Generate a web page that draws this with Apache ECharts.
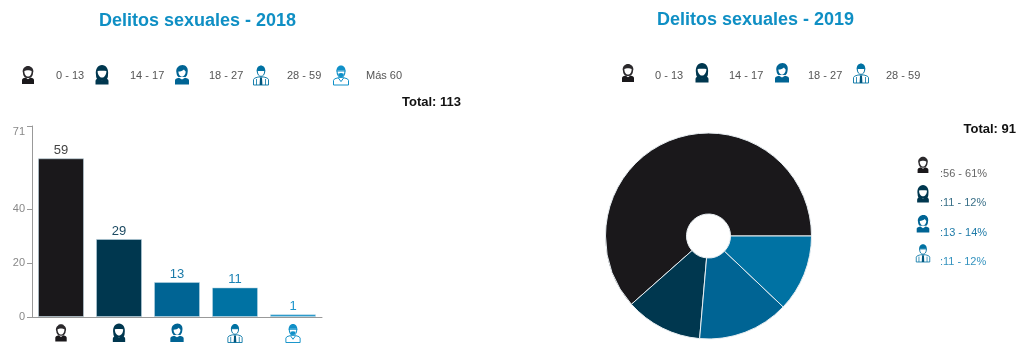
<!DOCTYPE html>
<html>
<head>
<meta charset="utf-8">
<style>html,body{margin:0;padding:0;background:#fff}#c{width:1019px;height:343px}</style>
<script src="https://cdn.jsdelivr.net/npm/echarts@6/dist/echarts.min.js"></script>
</head>
<body>
<div id="c"></div>
<script>
const ageGroups = ['0 - 13', '14 - 17', '18 - 27', '28 - 59', 'Más 60'];
const ageGroups2019 = ['0 - 13', '14 - 17', '18 - 27', '28 - 59'];
const values2018 = [59, 29, 13, 11, 1];
const values2019 = [56, 11, 13, 11];
const percents2019 = [61, 12, 14, 12];
const yTicks = [0, 20, 40, 71];
const total2018 = 113;
const total2019 = 91;
const colors = ['#1a181b', '#00374f', '#006494', '#0072a3', '#1090c8'];
const labelColors = ['#444444', '#1c4a62', '#1a7aa8', '#1a82b4', '#1a94cc'];
const sideLabelColors = ['#666666', '#3a7088', '#1f7ba8', '#3593bf'];

const FONT = '"Liberation Sans", Arial, sans-serif';

function icon(i, x, y, s) {
  const c = colors[i];
  const fill = (d, f) => ({ type: 'path', shape: { pathData: d }, style: { fill: f || c } });
  const line = (d, w) => ({ type: 'path', shape: { pathData: d }, style: { fill: '#fff', stroke: c, lineWidth: w || 0.9 } });
  let kids;
  if (i === 0) {
    kids = [
      fill('M-5 -2C-6 -4 -5 -7 -3 -8C-2 -9.5 2 -9.5 3 -8C5 -7 6 -4 5 -2C5 1 3 3 0 3C-3 3 -5 1 -5 -2Z', '#2b292c'),
      fill('M-3.6 -4C-2 -5 2 -5 3.6 -4C3.8 -0.8 2 1.6 0 1.6C-2 1.6 -3.8 -0.8 -3.6 -4Z', '#fff'),
      fill('M-6 9V5Q-6 3.2 -2.5 2.4L0 4.2L2.5 2.4Q6 3.2 6 5V9Z')
    ];
  } else if (i === 1) {
    kids = [
      fill('M-6 0C-7 -6 -4 -10 0 -10C4 -10 7 -6 6 0C6 3 5 4 4 5L-4 5C-5 4 -6 3 -6 0Z'),
      fill('M-4.4 -4C-2 -4.4 2 -4.4 4.4 -4C4.4 0 2.2 2.6 0 2.6C-2.2 2.6 -4.4 0 -4.4 -4Z', '#fff'),
      fill('M-6.5 9.5V6Q-6.5 4 -3 3L0 5.2L3 3Q6.5 4 6.5 6V9.5Z')
    ];
  } else if (i === 2) {
    kids = [
      fill('M-5.5 -2C-6.8 -7 -3 -10 0.5 -10C4 -10 6.8 -7 5.5 -2C5.4 0 4.5 1 3.6 2L-3.6 2C-4.5 1 -5.4 0 -5.5 -2Z'),
      fill('M-3.6 -3.4C-1.5 -3.6 1 -4.4 2 -5.6C2.6 -4.6 3.4 -4 3.7 -3.2C3.6 -0.4 1.8 1.8 0 1.8C-1.8 1.8 -3.6 -0.4 -3.6 -3.4Z', '#fff'),
      fill('M-7 9.5V5.4Q-7 3.6 -3 2.8L0 4.6L3 2.8Q7 3.6 7 5.4V9.5Z')
    ];
  } else if (i === 3) {
    kids = [
      line('M-7.5 10V4.6Q-7.5 3 -3 2L3 2Q7.5 3 7.5 4.6V10Z'),
      { type: 'path', shape: { pathData: 'M-4.5 4V10M4.5 4V10' }, style: { fill: 'none', stroke: c, lineWidth: 0.8 } },
      fill('M-1 2.6H1L1.4 10H-1.4Z', '#00577f'),
      line('M-3.8 -4.5C-3.8 -0.6 -2 1.4 0 1.4C2 1.4 3.8 -0.6 3.8 -4.5Z', 1),
      fill('M-4.2 -3.6C-4.8 -7.6 -2 -9.6 0 -9.6C2 -9.6 4.8 -7.6 4.2 -3.6L3.4 -4.6L-3.4 -4.6Z')
    ];
  } else {
    kids = [
      line('M-7.5 10V5.4Q-7.5 3.6 -3 2.8L3 2.8Q7.5 3.6 7.5 5.4V10Z', 1),
      line('M-2.6 3L0 6.6L2.6 3', 1),
      line('M-4 -4C-4 0 -2 2.4 0 2.4C2 2.4 4 0 4 -4Z', 1.1),
      fill('M-2.8 -1.2Q0 -2.6 2.8 -1.2Q2.4 2 0 2.2Q-2.4 2 -2.8 -1.2Z'),
      fill('M-4.5 -3.2C-5 -8 -2 -9.6 0 -9.6C2 -9.6 5 -8 4.5 -3.2L3.4 -4.6L-3.4 -4.6Z')
    ];
  }
  return { type: 'group', x, y, scaleX: s, scaleY: s, silent: true, children: kids };
}

function text(str, x, y, o) {
  return {
    type: 'text', x, y, silent: true,
    style: Object.assign({ text: str, font: '11px ' + FONT, fill: '#555', verticalAlign: 'middle' }, o || {})
  };
}

const legendIconX = [28, 102, 182, 261, 341];
const legendTextX = [56, 130, 209, 287, 366];
const sideIconY = [165, 194, 224, 253];
const sideTextY = [174, 203, 233, 262];

const els = [];
const iconPlaces = [];
ageGroups.forEach((g, i) => {
  iconPlaces.push([legendIconX[i], 75, i, 1]);
  els.push(text(g, legendTextX[i], 76));
});
ageGroups2019.forEach((g, i) => {
  iconPlaces.push([legendIconX[i] + 600, 73, i, 1]);
  els.push(text(g, legendTextX[i] + 599, 76));
});
values2019.forEach((v, i) => {
  iconPlaces.push([923, sideIconY[i], i, 0.9]);
  els.push(text(':' + v + ' - ' + percents2019[i] + '%', 940, sideTextY[i], { fill: sideLabelColors[i], font: '11px ' + FONT }));
});
els.push(text('Total: ' + total2018, 461, 102, { font: 'bold 13px ' + FONT, fill: '#111', align: 'right' }));
els.push(text('Total: ' + total2019, 1016, 129, { font: 'bold 13px ' + FONT, fill: '#111', align: 'right' }));

const chart = echarts.init(document.getElementById('c'), null, { renderer: 'canvas' });

chart.setOption({
  animation: false,
  backgroundColor: '#fff',
  title: [
    { text: 'Delitos sexuales - 2018', left: 192.5, top: 7, textAlign: 'center',
      textStyle: { fontFamily: FONT, fontSize: 18, fontWeight: 'bold', color: '#0f8fc4' } },
    { text: 'Delitos sexuales - 2019', left: 750.5, top: 6, textAlign: 'center',
      textStyle: { fontFamily: FONT, fontSize: 18, fontWeight: 'bold', color: '#0f8fc4' } }
  ],
  grid: { left: 32, right: 697, top: 126, bottom: 26, containLabel: false },
  xAxis: {
    type: 'category', data: ageGroups,
    axisLine: { lineStyle: { color: '#999', width: 1 } },
    axisTick: { alignWithLabel: true, length: 5, lineStyle: { color: '#999' } },
    axisLabel: { show: false }
  },
  yAxis: {
    type: 'value', min: 0, max: 71,
    splitLine: { show: false },
    axisLine: { show: true, lineStyle: { color: '#999', width: 1 } },
    axisTick: { show: true, length: 5, lineStyle: { color: '#999' }, customValues: yTicks },
    axisLabel: { color: '#888', fontFamily: FONT, fontSize: 11, margin: 7, customValues: yTicks,
      verticalAlignMaxLabel: 'top' }
  },
  series: [
    {
      type: 'bar', barWidth: 46,
      data: values2018.map((v, i) => ({
        value: v,
        itemStyle: { color: colors[i], borderColor: 'rgba(190,215,228,0.55)', borderWidth: 1 },
        label: { color: labelColors[i] }
      })),
      label: { show: true, position: 'top', distance: 1, fontFamily: FONT, fontSize: 13 }
    },
    {
      type: 'pie', center: [708.5, 236], radius: [22, 103], startAngle: 0, clockwise: false,
      label: { show: false }, labelLine: { show: false }, silent: true,
      itemStyle: { borderColor: '#e8eef2', borderWidth: 1 },
      data: values2019.map((v, i) => ({ value: v, name: ageGroups2019[i], itemStyle: { color: colors[i] } }))
    },
    {
      type: 'custom', coordinateSystem: 'none', silent: true, data: iconPlaces,
      renderItem: (p, api) => icon(api.value(2), api.value(0), api.value(1), api.value(3))
    },
    {
      type: 'custom', coordinateSystem: 'cartesian2d', silent: true, encode: { x: 0, y: 1 },
      data: ageGroups.map((g, i) => [i, 0]),
      renderItem: (p, api) => {
        const pt = api.coord([api.value(0), api.value(1)]);
        return icon(p.dataIndex, pt[0], pt[1] + 16, 0.95);
      }
    }
  ],
  graphic: { elements: els }
});
</script>
</body>
</html>
